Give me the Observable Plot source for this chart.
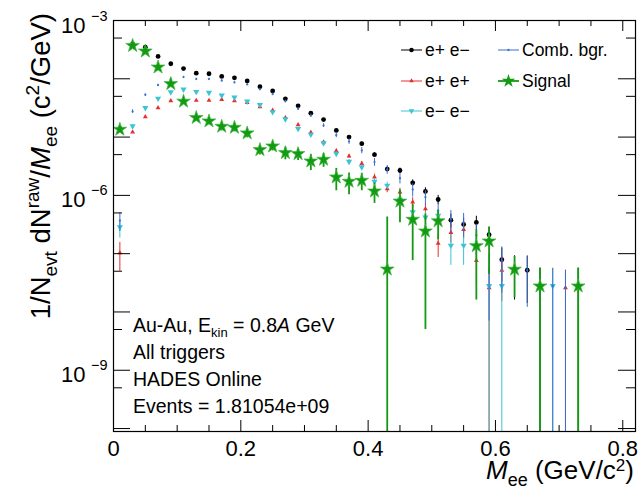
<!DOCTYPE html>
<html><head><meta charset="utf-8">
<script src="https://cdn.jsdelivr.net/npm/d3@7"></script>
<script src="https://cdn.jsdelivr.net/npm/@observablehq/plot@0.6"></script>
<style>
body{margin:0;background:#fff;}
svg{display:block;font-family:"Liberation Sans",Arial,Helvetica,sans-serif;}
</style>
</head><body><div id="chart"></div>
<script>
// ---- data ----
const mass = [0.01,0.03,0.05,0.07,0.09,0.11,0.13,0.15,0.17,0.19,0.21,0.23,0.25,0.27,0.29,0.31,0.33,0.35,0.37,0.39,0.41,0.43,0.45,0.47,0.49,0.51,0.53,0.55,0.57,0.59,0.61,0.63,0.65,0.67,0.69,0.71,0.73];

const ee = [1.39e-5,3.97e-4,3.49e-4,2.42e-4,1.81e-4,1.50e-4,1.25e-4,1.22e-4,1.10e-4,1.04e-4,9.2e-5,7.3e-5,6.2e-5,4.54e-5,3.44e-5,2.57e-5,2.0e-5,1.30e-5,1.0e-5,7.7e-6,5.0e-6,2.83e-6,2.67e-6,1.64e-6,1.17e-6,8.5e-7,3.76e-7,3.17e-7,3.43e-7,2.11e-7,7.9e-8,5.4e-8,5.2e-8,2.8e-8,null,null,2.8e-8];
const eeErr = [6e-7,3.3e-6,3.1e-6,2.6e-6,2.2e-6,2.0e-6,1.8e-6,1.8e-6,1.7e-6,1.7e-6,1.6e-6,1.4e-6,1.3e-6,1.1e-6,9.6e-7,8.3e-7,7.3e-7,5.9e-7,5.2e-7,4.6e-7,3.7e-7,2.8e-7,2.7e-7,2.1e-7,1.8e-7,1.5e-7,1.0e-7,9.2e-8,9.6e-8,7.5e-8,4.6e-8,3.8e-8,3.8e-8,2.8e-8,null,null,2.8e-8];

const pp = [1.03e-7,1.22e-5,2.23e-5,3.17e-5,4.2e-5,4.3e-5,4.25e-5,4.25e-5,4.4e-5,4.2e-5,3.9e-5,3.3e-5,2.87e-5,2.15e-5,1.62e-5,1.2e-5,8.2e-6,5.8e-6,4.7e-6,3.5e-6,2.06e-6,1.3e-6,1.14e-6,7.7e-7,5.9e-7,1.51e-7,2.31e-7,2.6e-7,7.6e-8,2.6e-8,5.2e-8,null,null,null,null,2.6e-8,null];
const ppErr = [5.3e-8,6e-7,8e-7,9e-7,1.1e-6,1.1e-6,1.1e-6,1.1e-6,1.1e-6,1.1e-6,1e-6,9.5e-7,8.8e-7,7.6e-7,6.6e-7,5.7e-7,4.7e-7,4e-7,3.6e-7,3.1e-7,2.4e-7,1.9e-7,1.8e-7,1.45e-7,1.3e-7,6.5e-8,8e-8,8.4e-8,4.5e-8,2.6e-8,3.7e-8,null,null,null,null,2.6e-8,null];

const mm = [2.85e-7,1.54e-5,3.17e-5,4.6e-5,5.9e-5,6.6e-5,6.0e-5,5.8e-5,5.2e-5,4.8e-5,4.1e-5,3.58e-5,2.7e-5,2.03e-5,1.39e-5,1.11e-5,7.9e-6,5.2e-6,3.8e-6,3.05e-6,1.73e-6,1.48e-6,8.5e-7,5.2e-7,4.2e-7,4.5e-7,1.38e-7,1.38e-7,1.36e-7,2.8e-8,2.8e-8,null,null,null,2.8e-8,null,null];
const mmErr = [1e-7,6.5e-7,9.3e-7,1.1e-6,1.3e-6,1.3e-6,1.3e-6,1.25e-6,1.2e-6,1.1e-6,1.05e-6,9.8e-7,8.5e-7,7.4e-7,6.1e-7,5.5e-7,4.6e-7,3.7e-7,3.2e-7,2.9e-7,2.2e-7,2e-7,1.5e-7,1.2e-7,1.05e-7,1.1e-7,7.5e-8,7.5e-8,6e-8,2.8e-8,2.8e-8,null,null,null,2.8e-8,null,null];

const bg = [3.7e-7,2.75e-5,5.3e-5,7.77e-5,9.7e-5,1.07e-4,9.9e-5,9.9e-5,9.3e-5,8.65e-5,8.0e-5,6.6e-5,5.45e-5,4.1e-5,3.05e-5,2.34e-5,1.58e-5,1.08e-5,8.4e-6,5.9e-6,3.72e-6,2.78e-6,1.97e-6,1.26e-6,9.3e-7,5.5e-7,3.9e-7,3.4e-7,2.07e-7,5.2e-8,7.6e-8,null,5.2e-8,null,2.8e-8,2.6e-8,null];
const bgErr = [1.3e-7,2e-6,2.6e-6,3e-6,3.2e-6,3.3e-6,3.2e-6,3.2e-6,3e-6,2.9e-6,2.8e-6,2.5e-6,2.3e-6,2e-6,1.7e-6,1.5e-6,1.2e-6,1e-6,8.7e-7,7.2e-7,5.6e-7,4.8e-7,4e-7,3.2e-7,2.7e-7,2e-7,1.6e-7,1.5e-7,1.1e-7,4.5e-8,5.5e-8,null,4e-8,null,2.8e-8,2.6e-8,null];

const sig = [1.35e-5,3.7e-4,2.97e-4,1.58e-4,8.2e-5,4.1e-5,2.15e-5,1.88e-5,1.52e-5,1.46e-5,1.17e-5,6.05e-6,6.98e-6,5.37e-6,5.16e-6,3.86e-6,4.13e-6,2.05e-6,1.73e-6,1.80e-6,1.18e-6,5.4e-8,7.9e-7,3.86e-7,2.43e-7,3.63e-7,null,null,1.36e-7,1.64e-7,null,5.37e-8,null,2.77e-8,null,null,2.77e-8];
const sigErr = [7e-7,3.4e-6,3.4e-6,3.4e-6,3.3e-6,3e-6,2.8e-6,2.6e-6,2.4e-6,2.3e-6,2.0e-6,1.1e-6,1.2e-6,1.3e-6,1.2e-6,1.2e-6,1.1e-6,8.5e-7,7e-7,6e-7,4.5e-7,3.7e-7,4.5e-7,3.1e-7,2.38e-7,1.9e-7,null,null,1.2e-7,1.2e-7,null,3.6e-8,null,2.9e-8,null,null,2.9e-8];

const xMajor = [0,0.2,0.4,0.6,0.8];
const xMinor = [0.05,0.1,0.15,0.25,0.3,0.35,0.45,0.5,0.55,0.65,0.7,0.75];
const yMajor = [1e-3,1e-4,1e-5,1e-6,1e-7,1e-8,1e-9,1e-10];
const yMinor = [5e-4,5e-5,5e-6,5e-7,5e-8,5e-9,5e-10];
const yLabelValues = [1e-3,1e-6,1e-9];
const yLabelExp = ["\u22123","\u22126","\u22129"];

const legendLabels = ["e+ e\u2212","e+ e+","e\u2212 e\u2212","Comb. bgr.","Signal"];
const infoLines = ["All triggers","HADES Online","Events = 1.81054e+09"];

// ---- helpers ----
const rows = (vals, errs) => mass.map((m,i)=>({m, v: vals[i], e: errs[i] ?? 0})).filter(d => d.v != null);
const lo = d => (d.v - d.e > 0 ? d.v - d.e : 1e-14);
const hi = d => d.v + d.e;

const triangleDown = {
  draw(context, size) {
    const y = -Math.sqrt(size / (Math.sqrt(3) * 3));
    context.moveTo(0, -y * 2);
    context.lineTo(-Math.sqrt(3) * y, y);
    context.lineTo(Math.sqrt(3) * y, y);
    context.closePath();
  }
};

const C = {ee:"#000000", pp:"#e3302c", mm:"#3cc4d4", bg:"#3b6fd1", sig:"#129a12"};

const series = [
  {d: rows(ee, eeErr), color: C.ee, sym: "circle", r: 2.4, sw: 1},
  {d: rows(pp, ppErr), color: C.pp, sym: "triangle", r: 1.8, sw: 1},
  {d: rows(mm, mmErr), color: C.mm, sym: triangleDown, r: 2.3, sw: 1},
  {d: rows(bg, bgErr), color: C.bg, sym: "circle", r: 1.1, sw: 1},
  {d: rows(sig, sigErr), color: C.sig, sym: "star", r: 4.3, sw: 1.8}
];

const FW = 522, FH = 411;
const marks = [];
for (const s of series) {
  marks.push(Plot.ruleX(s.d, {x: "m", y1: lo, y2: hi, stroke: s.color, strokeWidth: s.sw, clip: true}));
  marks.push(Plot.dot(s.d, {x: "m", y: "v", symbol: s.sym, r: s.r, fill: s.color, stroke: s.sym === "star" ? "#3fb83f" : "none", strokeWidth: 0.7}));
}
// ticks (ROOT style, inside, all four sides)
marks.push(
  Plot.tickX(xMajor, {x: d=>d, insetTop: FH-11, stroke: "#000"}),
  Plot.tickX(xMinor, {x: d=>d, insetTop: FH-6, stroke: "#000"}),
  Plot.tickX(xMajor, {x: d=>d, insetBottom: FH-11, stroke: "#000"}),
  Plot.tickX(xMinor, {x: d=>d, insetBottom: FH-6, stroke: "#000"}),
  Plot.tickY(yMajor, {y: d=>d, insetRight: FW-17, stroke: "#000"}),
  Plot.tickY(yMinor, {y: d=>d, insetRight: FW-9, stroke: "#000"}),
  Plot.tickY(yMajor, {y: d=>d, insetLeft: FW-17, stroke: "#000"}),
  Plot.tickY(yMinor, {y: d=>d, insetLeft: FW-9, stroke: "#000"}),
  Plot.frame({stroke: "#000", strokeWidth: 1.2}),
  Plot.text(xMajor, {x: d=>d, text: d=>String(d), frameAnchor: "bottom", lineAnchor: "bottom", dy: 24, fontSize: 22, fill: "#000"}),
  Plot.text(yLabelValues, {y: d=>d, text: () => "10", frameAnchor: "left", textAnchor: "end", lineAnchor: "bottom", dx: -28, dy: 12, fontSize: 22, fill: "#000"}),
  Plot.text(yLabelValues, {y: d=>d, text: (d,i) => yLabelExp[i], frameAnchor: "left", textAnchor: "end", lineAnchor: "bottom", dx: -6, dy: 0, fontSize: 14.5, fill: "#000"})
);

const svg = Plot.plot({
  width: 640, height: 494,
  marginTop: 20, marginBottom: 63, marginLeft: 113, marginRight: 5,
  x: {domain: [0, 0.82], axis: null},
  y: {type: "log", domain: [8.9e-11, 1e-3], axis: null},
  style: {background: "#fff", fontFamily: "'Liberation Sans',Arial,Helvetica,sans-serif", overflow: "visible"},
  marks
});
document.getElementById("chart").appendChild(svg);

// ---- legend ----
const s = d3.select(svg);
const lg = s.append("g").attr("font-size", 17.5).attr("fill", "#000").attr("text-anchor", "start");
const legendItems = [
  {i:0, color:C.ee, sym:d3.symbolCircle, size:16, x:401, y:50, w:1},
  {i:1, color:C.pp, sym:d3.symbolTriangle, size:9, x:401, y:81, w:1},
  {i:2, color:C.mm, sym:triangleDown, size:14, x:401, y:111, w:1},
  {i:3, color:C.bg, sym:d3.symbolCircle, size:4, x:498, y:50, w:1},
  {i:4, color:C.sig, sym:d3.symbolStar, size:55, x:498, y:81, w:1.8}
];
for (const it of legendItems) {
  lg.append("line").attr("x1", it.x).attr("x2", it.x+21).attr("y1", it.y).attr("y2", it.y)
    .attr("stroke", it.color).attr("stroke-width", it.w);
  lg.append("path").attr("d", d3.symbol(it.sym, it.size)()).attr("transform", `translate(${it.x+10.5},${it.y})`).attr("fill", it.color);
  lg.append("text").attr("x", it.x+24).attr("y", it.y).attr("dy", "0.36em").attr("text-anchor", "start").text(legendLabels[it.i]);
}

// ---- info text ----
const info = s.append("g").attr("font-size", 19.5).attr("fill", "#000").attr("text-anchor", "start");
const t0 = info.append("text").attr("x", 133).attr("y", 332).attr("text-anchor", "start");
t0.append("tspan").text("Au-Au, E");
t0.append("tspan").attr("font-size", 13).attr("dy", 5).text("kin");
t0.append("tspan").attr("dy", -5).text(" = 0.8");
t0.append("tspan").attr("font-style", "italic").text("A");
t0.append("tspan").text(" GeV");
infoLines.forEach((l, k) => info.append("text").attr("x", 133).attr("y", 359 + 27*k).attr("text-anchor", "start").text(l));

// ---- axis titles ----
const xt = s.append("text").attr("x", 634).attr("y", 479).attr("text-anchor", "end").attr("font-size", 26).attr("fill", "#000");
xt.append("tspan").attr("font-style", "italic").text("M");
xt.append("tspan").attr("font-size", 18).attr("dy", 7).text("ee");
xt.append("tspan").attr("dy", -7).text(" (GeV/c");
xt.append("tspan").attr("font-size", 17).attr("dy", -8).text("2");
xt.append("tspan").attr("dy", 8).text(")");

const yt = s.append("text").attr("transform", "translate(50,13) rotate(-90)").attr("text-anchor", "end").attr("font-size", 27.5).attr("fill", "#000");
yt.append("tspan").text("1/N");
yt.append("tspan").attr("font-size", 19).attr("dy", 7).text("evt");
yt.append("tspan").attr("dy", -7).text(" dN");
yt.append("tspan").attr("font-size", 19).attr("dy", -11).text("raw");
yt.append("tspan").attr("dy", 11).text("/");
yt.append("tspan").attr("font-style", "italic").text("M");
yt.append("tspan").attr("font-size", 19).attr("dy", 7).text("ee");
yt.append("tspan").attr("dy", -7).text(" (c");
yt.append("tspan").attr("font-size", 19).attr("dy", -11).text("2");
yt.append("tspan").attr("dy", 11).text("/GeV)");
</script>
</body></html>
